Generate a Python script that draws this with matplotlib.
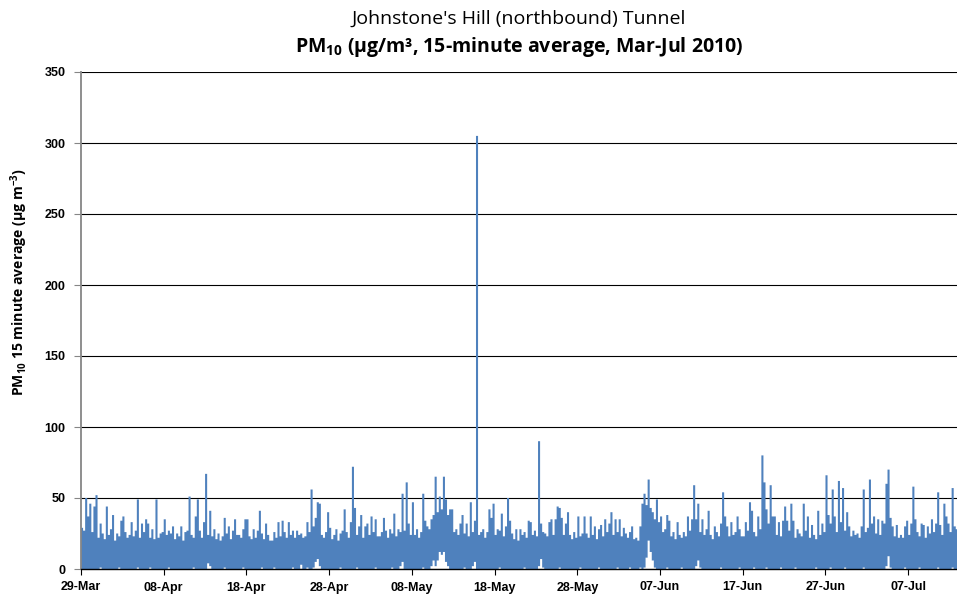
import numpy as np
import pandas as pd
import matplotlib
matplotlib.use("Agg")
import matplotlib.pyplot as plt
import matplotlib.dates as mdates

start = "2010-03-29"

# highest 15-minute PM10 value in each 6-hour block (00-06, 06-12, 12-18, 18-24), ug/m3
peak_6h = [
    29, 27, 50, 37,  46, 26, 44, 52,  22, 32, 25, 21,  44, 24, 28, 38,   # 29 Mar - 01 Apr
    20, 25, 23, 34,  37, 26, 22, 24,  33, 23, 27, 49,  22, 32, 26, 35,   # 02 Apr - 05 Apr
    32, 22, 28, 21,  49, 22, 25, 26,  35, 24, 27, 25,  30, 21, 25, 23,   # 06 Apr - 09 Apr
    30, 20, 26, 27,  51, 24, 22, 37,  49, 27, 22, 33,  67, 24, 41, 23,   # 10 Apr - 13 Apr
    28, 21, 25, 20,  23, 36, 25, 30,  21, 27, 35, 24,  24, 22, 28, 35,   # 14 Apr - 17 Apr
    35, 23, 21, 28,  22, 27, 41, 25,  21, 32, 24, 20,  20, 26, 22, 33,   # 18 Apr - 21 Apr
    23, 34, 26, 22,  33, 24, 27, 22,  27, 24, 25, 22,  23, 33, 26, 56,   # 22 Apr - 25 Apr
    30, 36, 47, 46,  24, 22, 26, 40,  29, 21, 24, 28,  20, 25, 27, 42,   # 26 Apr - 29 Apr
    26, 22, 33, 72,  43, 24, 30, 38,  22, 30, 32, 24,  37, 26, 35, 23,   # 30 Apr - 03 May
    23, 26, 36, 27,  22, 28, 25, 39,  23, 28, 26, 53,  27, 61, 32, 24,   # 04 May - 07 May
    47, 24, 28, 22,  26, 53, 34, 30,  28, 35, 38, 65,  40, 51, 42, 65,   # 08 May - 11 May
    49, 38, 42, 42,  26, 28, 24, 32,  38, 25, 32, 23,  47, 26, 34, 305,  # 12 May - 15 May
    24, 26, 28, 22,  26, 42, 36, 46,  24, 28, 27, 39,  23, 30, 50, 34,   # 16 May - 19 May
    25, 21, 28, 20,  28, 24, 26, 22,  34, 33, 24, 27,  23, 90, 32, 26,   # 20 May - 23 May
    25, 23, 33, 35,  24, 35, 44, 43,  36, 24, 32, 40,  24, 21, 26, 22,   # 24 May - 27 May
    37, 23, 25, 37,  25, 22, 37, 24,  30, 21, 28, 31,  23, 35, 26, 32,   # 28 May - 31 May
    40, 24, 35, 26,  35, 23, 29, 25,  22, 26, 30, 21,  22, 20, 30, 46,   # 01 Jun - 04 Jun
    53, 45, 63, 43,  40, 35, 49, 33,  37, 26, 28, 38,  34, 23, 26, 21,   # 05 Jun - 08 Jun
    33, 24, 22, 26,  23, 37, 27, 35,  59, 35, 46, 26,  35, 24, 28, 41,   # 09 Jun - 12 Jun
    24, 21, 30, 26,  23, 32, 54, 37,  30, 23, 33, 24,  26, 37, 28, 23,   # 13 Jun - 16 Jun
    23, 33, 27, 47,  41, 26, 23, 37,  28, 80, 61, 42,  32, 59, 37, 37,   # 17 Jun - 20 Jun
    24, 33, 23, 34,  44, 34, 27, 46,  34, 22, 28, 25,  23, 46, 27, 37,   # 21 Jun - 24 Jun
    22, 31, 24, 21,  41, 24, 32, 26,  66, 38, 32, 56,  37, 26, 62, 33,   # 25 Jun - 28 Jun
    57, 27, 40, 30,  23, 27, 24, 25,  22, 30, 56, 26,  29, 63, 32, 37,   # 29 Jun - 02 Jul
    25, 35, 24, 34,  32, 60, 70, 36,  30, 23, 31, 22,  24, 22, 30, 34,   # 03 Jul - 06 Jul
    24, 32, 58, 35,  26, 23, 32, 31,  22, 30, 25, 35,  26, 32, 54, 31,   # 07 Jul - 10 Jul
    24, 46, 37, 32,  26, 57, 30, 28,                                     # 11 Jul - 12 Jul
]

# lowest 15-minute PM10 value in each 6-hour block, ug/m3
low_6h = [
    0, 0, 0, 0,  0, 0, 0, 0,  0, 1, 0, 0,  0, 0, 0, 0,     # 29 Mar - 01 Apr
    0, 0, 1, 0,  0, 0, 0, 0,  0, 0, 0, 1,  0, 0, 0, 0,     # 02 Apr - 05 Apr
    0, 1, 0, 0,  0, 0, 0, 0,  0, 0, 1, 0,  0, 0, 0, 0,     # 06 Apr - 09 Apr
    0, 0, 0, 0,  0, 0, 1, 0,  0, 0, 0, 0,  0, 4, 2, 0,     # 10 Apr - 13 Apr
    0, 0, 0, 0,  0, 1, 0, 0,  0, 0, 0, 0,  0, 0, 1, 0,     # 14 Apr - 17 Apr
    0, 0, 0, 0,  0, 0, 0, 1,  0, 0, 0, 0,  0, 1, 0, 0,     # 18 Apr - 21 Apr
    0, 0, 0, 0,  0, 0, 1, 0,  0, 0, 3, 0,  0, 1, 0, 0,     # 22 Apr - 25 Apr
    1, 5, 7, 2,  0, 0, 0, 0,  0, 0, 0, 0,  0, 1, 0, 0,     # 26 Apr - 29 Apr
    0, 0, 0, 0,  0, 1, 0, 0,  0, 0, 0, 0,  0, 0, 1, 0,     # 30 Apr - 03 May
    0, 0, 0, 0,  0, 0, 1, 0,  0, 0, 2, 5,  0, 0, 0, 0,     # 04 May - 07 May
    0, 0, 0, 0,  0, 1, 0, 0,  0, 2, 6, 2,  6, 12, 10, 12,  # 08 May - 11 May
    5, 2, 0, 0,  0, 0, 0, 0,  0, 1, 0, 0,  0, 2, 5, 0,     # 12 May - 15 May
    0, 0, 0, 0,  0, 0, 0, 0,  0, 0, 1, 0,  0, 0, 0, 0,     # 16 May - 19 May
    0, 0, 0, 0,  0, 0, 1, 0,  0, 0, 0, 0,  0, 2, 7, 1,     # 20 May - 23 May
    0, 0, 0, 0,  0, 0, 0, 1,  0, 0, 0, 0,  0, 0, 0, 0,     # 24 May - 27 May
    0, 1, 0, 0,  0, 0, 0, 0,  0, 0, 1, 0,  0, 0, 0, 0,     # 28 May - 31 May
    0, 0, 0, 1,  0, 0, 0, 0,  0, 1, 0, 0,  0, 0, 1, 0,     # 01 Jun - 04 Jun
    1, 8, 20, 12,  6, 1, 0, 0,  0, 0, 0, 1,  0, 0, 0, 0,   # 05 Jun - 08 Jun
    0, 0, 1, 0,  0, 0, 0, 0,  0, 2, 6, 1,  0, 0, 0, 0,     # 09 Jun - 12 Jun
    0, 0, 0, 0,  0, 1, 0, 0,  0, 0, 0, 0,  0, 0, 1, 0,     # 13 Jun - 16 Jun
    0, 0, 0, 0,  0, 1, 0, 0,  0, 0, 0, 1,  0, 0, 0, 0,     # 17 Jun - 20 Jun
    0, 0, 1, 0,  0, 0, 0, 0,  0, 1, 0, 0,  0, 0, 0, 0,     # 21 Jun - 24 Jun
    0, 0, 0, 1,  0, 0, 0, 0,  0, 0, 1, 0,  0, 0, 0, 0,     # 25 Jun - 28 Jun
    0, 1, 0, 0,  0, 0, 0, 0,  0, 0, 1, 0,  0, 0, 0, 0,     # 29 Jun - 02 Jul
    0, 0, 0, 0,  0, 2, 9, 1,  0, 0, 0, 0,  0, 0, 1, 0,     # 03 Jul - 06 Jul
    0, 0, 0, 0,  0, 1, 0, 0,  0, 0, 0, 0,  0, 0, 1, 0,     # 07 Jul - 10 Jul
    0, 0, 0, 0,  0, 1, 0, 0,                               # 11 Jul - 12 Jul
]

tick_dates = pd.date_range(start, periods=11, freq="10D")
y_ticks = [0, 50, 100, 150, 200, 250, 300, 350]

plt.rcParams["mathtext.fontset"] = "custom"
plt.rcParams["mathtext.rm"] = "Open Sans"
plt.rcParams["mathtext.bf"] = "Open Sans:bold"

edges = mdates.date2num(pd.date_range(start, periods=len(peak_6h) + 1, freq="6h"))

fig = plt.figure(figsize=(9.57, 5.95), dpi=100)
ax = fig.add_axes([81 / 957, 26 / 595, 876 / 957, 497 / 595])

ax.stairs(peak_6h, edges, baseline=low_6h, fill=True, color="#4f81bd", lw=0)

ax.set_xlim(edges[0], edges[0] + 105.9)
ax.set_ylim(0, 350)
ax.set_yticks(y_ticks)
ax.set_xticks(mdates.date2num(tick_dates))
ax.xaxis.set_major_formatter(mdates.DateFormatter("%d-%b"))

ax.set_axisbelow(True)
ax.grid(axis="y", color="black", lw=0.8)
ax.spines["top"].set_visible(False)
ax.spines["right"].set_visible(False)
ax.spines["left"].set_color("#868686")
ax.spines["left"].set_linewidth(1.3)
ax.spines["bottom"].set_color("black")
ax.spines["bottom"].set_linewidth(1.0)
ax.tick_params(axis="y", direction="out", length=5, color="#868686", pad=6)
ax.tick_params(axis="x", direction="out", length=4, color="black", pad=5)
for lab in ax.get_xticklabels() + ax.get_yticklabels():
    lab.set_fontfamily("Liberation Sans")
    lab.set_fontweight("bold")
    lab.set_fontsize(9)

ax.set_ylabel(r"PM$_\mathbf{10}$ 15 minute average (µg m$^\mathbf{-3}$)",
              family="Open Sans", weight="bold", fontsize=10.1)
ax.yaxis.label.set_va("center")
ax.yaxis.set_label_coords(-0.0708, 0.577)

cx = (81 + 957) / 2 / 957
fig.text(cx, 1 - 24 / 595, "Johnstone's Hill (northbound) Tunnel",
         ha="center", va="baseline", family="Open Sans", fontsize=14)
fig.text(cx, 1 - 52 / 595, r"PM$_\mathbf{10}$ (µg/m³, 15-minute average, Mar-Jul 2010)",
         ha="center", va="baseline", family="Open Sans", weight="bold", fontsize=14)

fig.savefig("out.png", dpi=100)
